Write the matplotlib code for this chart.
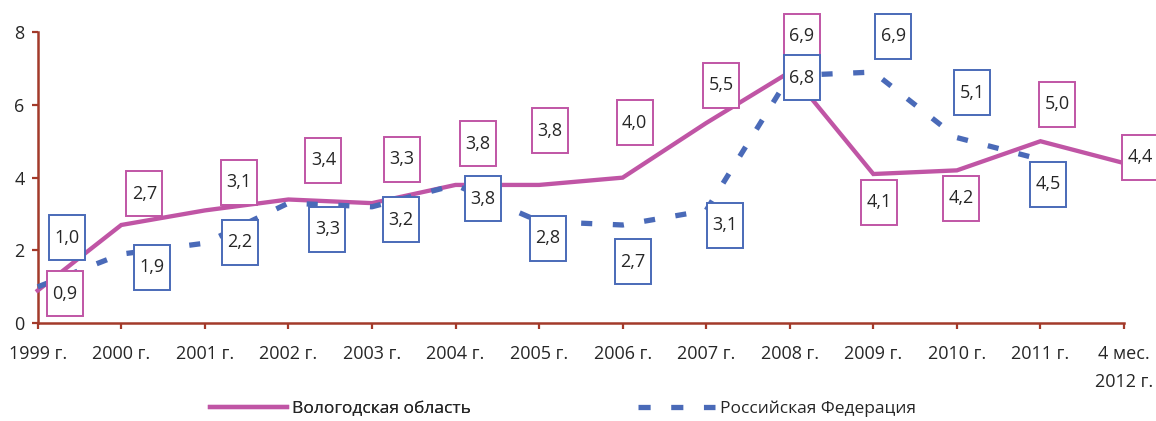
import matplotlib
matplotlib.use("Agg")
import matplotlib.pyplot as plt
import matplotlib.transforms as mt
from matplotlib.patches import Rectangle
from matplotlib.lines import Line2D

plt.rcParams['font.family'] = ['Open Sans', 'DejaVu Sans']

categories = ["1999 г.", "2000 г.", "2001 г.", "2002 г.", "2003 г.", "2004 г.", "2005 г.",
              "2006 г.", "2007 г.", "2008 г.", "2009 г.", "2010 г.", "2011 г.", "4 мес.\n2012 г."]
vologda = [0.9, 2.7, 3.1, 3.4, 3.3, 3.8, 3.8, 4.0, 5.5, 6.9, 4.1, 4.2, 5.0, 4.4]
russia = [1.0, 1.9, 2.2, 3.3, 3.2, 3.8, 2.8, 2.7, 3.1, 6.8, 6.9, 5.1, 4.5]
series_names = ["Вологодская область", "Российская Федерация"]

# label box offsets from their points, in pixels (dx right, dy up)
vol_off = [(27, -3), (23, 31), (34, 28), (35, 39), (30, 44), (22, 41), (11, 54),
           (12, 55), (15, 38), (12, 36), (6, -28), (4, -28), (17, 37), (16, 6)]
rus_off = [(29, 49), (31, -13), (35, 1), (39, -26), (29, -13), (27, -14), (9, -17),
           (10, -37), (19, -15), (12, -2), (20, 36), (15, 45), (8, -25)]

C_VOL = '#C055A5'
C_RUS = '#4A6AB8'
C_AX = '#A33A2A'
C_TXT = '#262626'

W, H = 1156, 421
DPI = 100
fig = plt.figure(figsize=(W / DPI, H / DPI), dpi=DPI)
x0, x1 = 37.7, 1124.0
y_top, y_bot = 32.0, 323.3
ax = fig.add_axes([x0 / W, (H - y_bot) / H, (x1 - x0) / W, (y_bot - y_top) / H])

VOL_STYLE = dict(color=C_VOL, lw=3.1, solid_joinstyle='miter')
RUS_STYLE = dict(color=C_RUS, lw=3.8, linestyle=(0, (2.1, 3.9)))

xs_v = list(range(len(vologda)))
xs_r = list(range(len(russia)))
ax.plot(xs_v, vologda, zorder=3, clip_on=False, **VOL_STYLE)
ax.plot(xs_r, russia, zorder=3, clip_on=False, **RUS_STYLE)

ax.set_xlim(0, len(categories) - 1)
ax.set_ylim(0, 8)
ax.set_yticks([0, 2, 4, 6, 8])
ax.set_xticks(range(len(categories)))
ax.set_xticklabels(categories, fontsize=13, color=C_TXT)
for lbl in ax.get_xticklabels():
    lbl.set_linespacing(1.75)
ax.tick_params(axis='y', labelsize=13, labelcolor=C_TXT, color=C_AX, width=1.6, length=4.5, pad=5)
ax.tick_params(axis='x', color=C_AX, width=1.6, length=4.5, pad=11)
for s in ['top', 'right']:
    ax.spines[s].set_visible(False)
for s in ['left', 'bottom']:
    ax.spines[s].set_color(C_AX)
    ax.spines[s].set_linewidth(1.8)

bw, bh = 36 / DPI, 45 / DPI


def boxes(xs, vals, offs, color):
    for x, v, (dx, dy) in zip(xs, vals, offs):
        base = fig.dpi_scale_trans + mt.ScaledTranslation(x, v, ax.transData)
        cx, cy = dx / DPI, dy / DPI
        r = Rectangle((cx - bw / 2, cy - bh / 2), bw, bh, transform=base,
                      facecolor='white', edgecolor=color, lw=1.4, zorder=5, clip_on=False)
        fig.add_artist(r)
        fig.text(cx, cy, f"{v:.1f}".replace('.', ','), transform=base,
                 ha='center', va='center', fontsize=13, color=C_TXT, zorder=6)


boxes(xs_v, vologda, vol_off, C_VOL)
boxes(xs_r, russia, rus_off, C_RUS)

leg_y = (H - 409) / H
h1 = Line2D([], [], color=C_VOL, lw=3.1)
h2 = Line2D([], [], color=C_RUS, lw=3.8, linestyle=(0, (2.3, 3.9)))
common = dict(loc='center left', frameon=False, fontsize=12.5, handlelength=4.45,
              handletextpad=0.3, borderpad=0, borderaxespad=0, labelcolor=C_TXT)
l1 = fig.legend([h1], [series_names[0]], bbox_to_anchor=(210 / W, leg_y), **common)
fig.add_artist(l1)
fig.legend([h2], [series_names[1]], bbox_to_anchor=(638 / W, leg_y), **common)

fig.savefig("out.png", dpi=DPI)
